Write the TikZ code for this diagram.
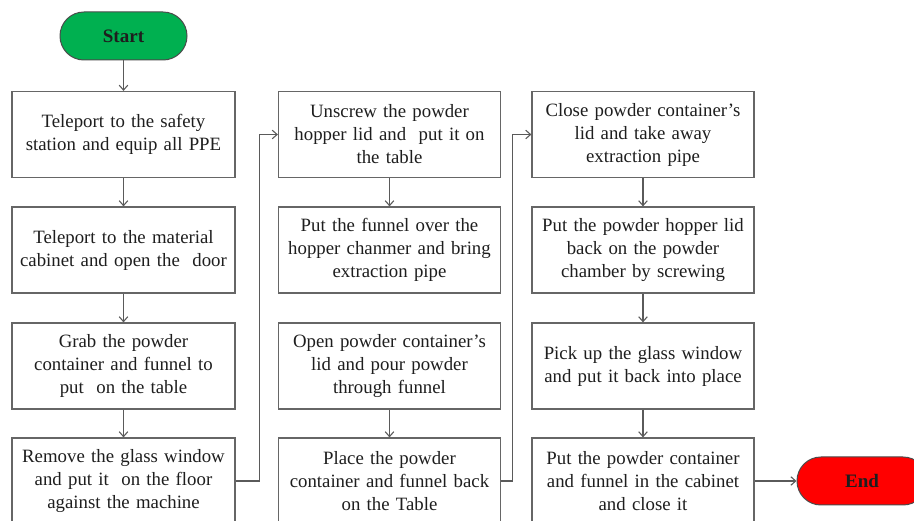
\documentclass[tikz,border=0pt]{standalone}
\usepackage{fontspec}
\setmainfont{Liberation Serif}
\usetikzlibrary{arrows.meta}
\definecolor{ink}{HTML}{1E1E1E}
\definecolor{frame}{HTML}{666666}
\definecolor{wire}{HTML}{5A5A5A}
\definecolor{gogreen}{HTML}{00B050}
\definecolor{stopred}{HTML}{FF0000}

\begin{document}
\begin{tikzpicture}[x=1pt,y=-1pt,>={Straight Barb[length=1.7mm,width=3mm]},
  font=\fontsize{18.8}{23}\selectfont,
  stepbox/.style={draw=frame,line width=1.2pt,fill=white,text=ink,minimum width=222pt,
    minimum height=86pt,text width=220pt,align=center,inner sep=0pt},
  term/.style={draw=ink!80,line width=1pt,rounded corners=23.9pt,minimum height=48pt,
    text=ink,font=\fontsize{19}{23}\selectfont\bfseries},
  flow/.style={wire,line width=1.1pt,->}]
  \useasboundingbox (0,0) rectangle (914,521);
  \clip (0,0) rectangle (914,521);
  % start and end
  \node[term,fill=gogreen,minimum width=127pt] (start) at (123.5,36) {Start};
  \node[term,fill=stopred,minimum width=130pt] (stop) at (862,481) {End};
  % first column
  \node[stepbox,minimum width=223pt] (a1) at (123.5,134.5) {Teleport to the safety\\station and equip all PPE};
  \node[stepbox,minimum width=223pt] (a2) at (123.5,250) {Teleport to the material\\cabinet and open the\ \ door};
  \node[stepbox,minimum width=223pt] (a3) at (123.5,366) {Grab the powder\\container and funnel to\\put\ \ on the table};
  \node[stepbox,minimum width=223pt] (a4) at (123.5,481) {Remove the glass window\\and put it\ \ on the floor\\against the machine};
  % second column
  \node[stepbox] (b1) at (389.5,134.5) {Unscrew the powder\\hopper lid and\ \ put it on\\the table};
  \node[stepbox] (b2) at (389.5,250) {Put the funnel over the\\hopper chanmer and bring\\extraction pipe};
  \node[stepbox] (b3) at (389.5,366) {Open powder container's\\lid and pour powder\\through funnel};
  \node[stepbox] (b4) at (389.5,481) {Place the powder\\container and funnel back\\on the Table};
  % third column
  \node[stepbox] (c1) at (643,134.5) {Close powder container's\\lid and take away\\extraction pipe};
  \node[stepbox] (c2) at (643,250) {Put the powder hopper lid\\back on the powder\\chamber by screwing};
  \node[stepbox] (c3) at (643,366) {Pick up the glass window\\and put it back into place};
  \node[stepbox] (c4) at (643,481) {Put the powder container\\and funnel in the cabinet\\and close it};
  % connectors
  \draw[flow] (start) -- (a1);
  \draw[flow] (a1) -- (a2);
  \draw[flow] (a2) -- (a3);
  \draw[flow] (a3) -- (a4);
  \draw[flow] (a4.east) -- ++(24,0) |- (b1.west);
  \draw[flow] (b1) -- (b2);
  \draw[flow] (b3) -- (b4);
  \draw[flow] (b4.east) -- ++(11,0) |- (c1.west);
  \draw[flow] (c1) -- (c2);
  \draw[flow] (c2) -- (c3);
  \draw[flow] (c3) -- (c4);
  \draw[flow] (c4) -- (stop);
\end{tikzpicture}
\end{document}
